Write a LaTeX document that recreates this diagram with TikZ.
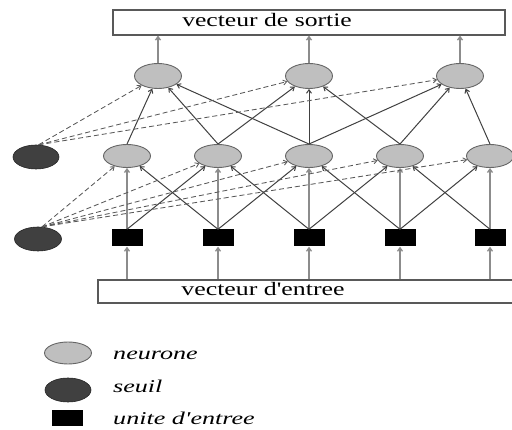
\documentclass[tikz,border=0pt]{standalone}
\usepackage{fontspec}
\usepackage{graphicx}
\setmainfont{Liberation Serif}
\usetikzlibrary{shapes.geometric,arrows.meta}
\begin{document}
\begin{tikzpicture}[x=1pt,y=-1pt,
  neuron/.style={ellipse,draw=black!60,fill=black!25,minimum width=47pt,minimum height=24pt,inner sep=0pt,line width=0.9pt},
  seuil/.style={ellipse,draw=black!85,fill=black!75,minimum width=46pt,minimum height=24pt,inner sep=0pt,line width=0.6pt},
  unitbox/.style={rectangle,fill=black,minimum width=31pt,minimum height=17pt,inner sep=0pt},
  vecbox/.style={rectangle,draw=black!65,line width=1.1pt,fill=white,inner sep=0pt},
  tip/.style={-{Straight Barb[length=3.5pt,width=5pt]}},
  lite/.style={tip,draw=black!45,line width=1.3pt},
  dark/.style={tip,draw=black!75,line width=1pt},
  dashlink/.style={tip,draw=black!65,dash pattern=on 5pt off 3pt,line width=0.85pt},
  lab/.style={font=\fontsize{19}{21}\selectfont,inner sep=0pt,anchor=base},
  leg/.style={font=\itshape\fontsize{18}{20}\selectfont,anchor=base west,inner sep=0pt}
]
\useasboundingbox (0,0) rectangle (512,430);

% output and input vectors
\node[vecbox,minimum width=392pt,minimum height=25pt] (sortie) at (309,22.5) {};
\node[lab] (sortietxt) at (267,27) {\scalebox{1.35}[1]{vecteur de sortie}};
\node[vecbox,minimum width=428pt,minimum height=23pt] (entree) at (312,291.5) {};
\node[lab] (entreetxt) at (263,296) {\scalebox{1.36}[1]{vecteur d\textquotesingle entree}};

% output layer
\foreach \i/\x in {1/158,2/309,3/460}
  \node[neuron,minimum height=25pt] (t\i) at (\x,76) {};

% hidden layer and input units
\foreach \i/\x in {1/127,2/218,3/309,4/400,5/490} {
  \node[neuron,minimum height=23pt] (m\i) at (\x,156) {};
  \node[unitbox] (u\i) at (\x,238) {};
}

% thresholds
\node[seuil] (s1) at (36,157) {};
\node[seuil,minimum width=47pt] (s2) at (38,239) {};

% input vector to input units
\foreach \i in {1,...,5}
  \draw[lite] (u\i |- entree.north) -- (u\i);

% input units to hidden layer
\foreach \i in {1,...,5}
  \draw[lite] (u\i) -- (m\i);
\foreach \i/\j in {1/2,2/1,2/3,3/2,3/4,4/3,4/5,5/4}
  \draw[dark] (u\i.north) -- (m\j);

% hidden layer to output layer
\foreach \i/\j in {1/1,2/1,3/1,2/2,3/2,4/2,3/3,4/3,5/3}
  \draw[dark] (m\i.north) -- (t\j);

% output layer to output vector
\foreach \i in {1,2,3}
  \draw[lite] (t\i) -- (t\i |- sortie.south);

% threshold links
\foreach \j in {1,2,3}
  \draw[dashlink] (s1.78) -- (t\j);
\foreach \j in {1,...,5}
  \draw[dashlink] (s2.72) -- (m\j);

% legend
\node[neuron,minimum height=22pt] (lgn) at (68,353) {};
\node[seuil] (lgs) at (68,390) {};
\node[unitbox,minimum height=16pt] (lgu) at (67,418) {};
\node[leg] (lgntxt) at (113,360) {\scalebox{1.45}[1]{neurone}};
\node[leg] (lgstxt) at (113,393) {\scalebox{1.45}[1]{seuil}};
\node[leg] (lgutxt) at (113,425) {\scalebox{1.45}[1]{unite d\textquotesingle entree}};
\end{tikzpicture}
\end{document}
